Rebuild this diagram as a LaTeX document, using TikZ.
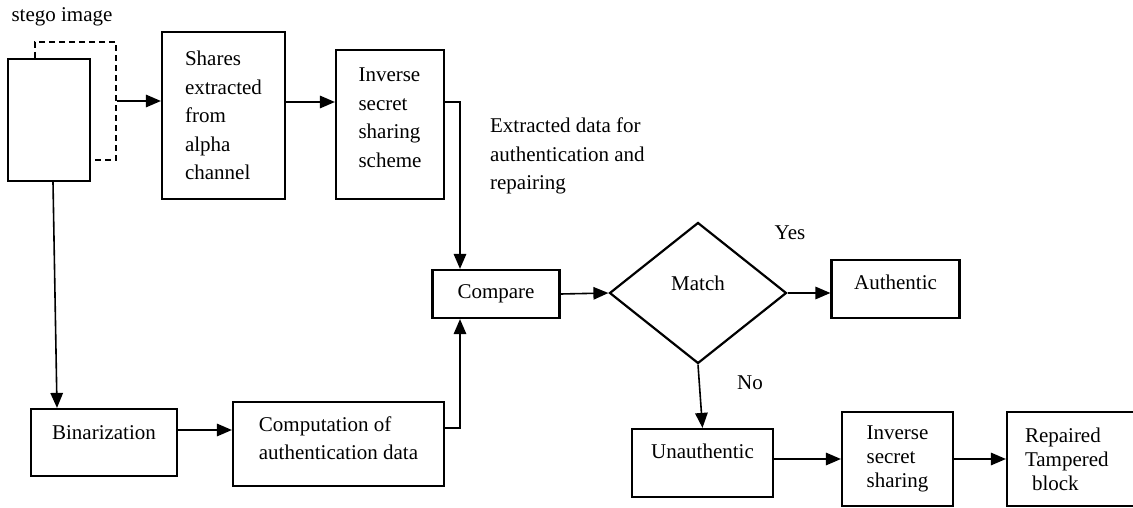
\documentclass[tikz,border=0pt]{standalone}
\usepackage{fontspec}
\setmainfont{Liberation Serif}
\usetikzlibrary{shapes.geometric,arrows.meta}

\begin{document}
\begin{tikzpicture}[x=1pt,y=-1pt,line width=1.6pt,
    font=\fontsize{21}{28.5}\selectfont,
    >={Triangle[length=15pt,width=12.5pt]},
    box/.style={rectangle,draw,line width=2.2pt,align=left,inner sep=0pt},
    lift/.style={text depth=#1}]
    \useasboundingbox (0,0) rectangle (1133,508);

    \begin{scope}[every node/.style={box}]
    \node[dash pattern=on 6pt off 4pt,line width=1.8pt,minimum width=81pt,minimum height=118pt] (back) at (75.5,101) {};
    \node[fill=white,minimum width=82pt,minimum height=122pt] (stego) at (49,120) {};
    \node[minimum width=123pt,minimum height=167pt] (shares) at (223.5,115.5) {Shares\\extracted\\from\\alpha\\channel};
    \node[minimum width=108pt,minimum height=149pt,lift=14pt] (inv) at (390,124.5) {Inverse\\secret\\sharing\\scheme};
    \node[minimum width=127pt,minimum height=48pt] (compare) at (496,294) {Compare};
    \node[diamond,minimum width=177pt,minimum height=141pt,lift=20pt] (match) at (698,293) {Match};
    \node[minimum width=128pt,minimum height=58pt,lift=14pt] (auth) at (895.5,289) {Authentic};
    \node[minimum width=141pt,minimum height=68pt,lift=24pt] (unauth) at (702.5,463) {Unauthentic};
    \node[minimum width=111pt,minimum height=94pt,font=\fontsize{21}{24}\selectfont] (inv2) at (897.5,459) {Inverse\\secret\\sharing};
    \node[minimum width=153pt,minimum height=94pt,text width=117pt,font=\fontsize{21}{24}\selectfont] (rep) at (1083.5,459) {Repaired\\Tampered\\\ block};
    \node[minimum width=146pt,minimum height=67pt,lift=20pt] (bin) at (104,442.5) {Binarization};
    \node[minimum width=211pt,minimum height=84pt,lift=12pt] (comp) at (338.5,444) {Computation of\\authentication data};
    \end{scope}

    \node (stegolabel) at (62,17) {stego image};
    \node[anchor=west,align=left] (extracted) at (486,156) {Extracted data for\\authentication and\\repairing};
    \node (yes) at (790,233) {Yes};
    \node (no) at (750,383) {No};

    \draw[->] (back.east) -- (back.east -| shares.west);
    \draw[->] ([yshift=13.5pt]shares.east) -- ([yshift=13.5pt]shares.east -| inv.west);
    \draw[->] ([yshift=22.5pt]inv.east) -| ([xshift=-36pt]compare.north);
    \draw[->] ([xshift=4pt]stego.south) -- ([xshift=-47pt]bin.north);
    \draw[->] ([yshift=12.5pt]bin.east) -- ([yshift=12.5pt]bin.east -| comp.west);
    \draw[->] ([yshift=16pt]comp.east) -| ([xshift=-36pt]compare.south);
    \draw[->] (compare.east) -- (match.west);
    \draw[->] (match.east) -- (match.east -| auth.west);
    \draw[->] (match.south) -- (unauth.north);
    \draw[->] (inv2.west -| unauth.east) -- (inv2.west);
    \draw[->] (inv2.east) -- (rep.west);

\end{tikzpicture}
\end{document}
